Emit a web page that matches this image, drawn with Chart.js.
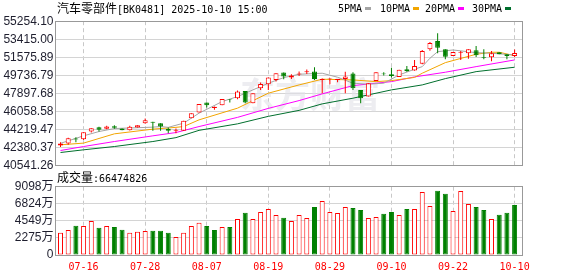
<!DOCTYPE html>
<html><head><meta charset="utf-8">
<script src="https://cdn.jsdelivr.net/npm/chart.js@4/dist/chart.umd.min.js"></script>
<style>
html,body{margin:0;padding:0;background:#fff;}
#wrap{position:relative;width:578px;height:276px;overflow:hidden;background:#fff;}
canvas{position:absolute;left:0;}
.t{position:absolute;white-space:nowrap;color:#000;line-height:12px;}
.cjk{font-family:"Noto Sans CJK SC";font-size:12px;}
.lat{font-family:"DejaVu Sans Mono";font-size:10px;}
.sw{display:inline-block;width:6px;height:3px;vertical-align:middle;margin-left:3px;position:relative;top:-1px;}
</style></head>
<body><div id="wrap">
<canvas id="main" width="578" height="175" style="top:0"></canvas>
<canvas id="vol" width="578" height="106" style="top:170px"></canvas>
<div class="t" style="left:57px;top:2px"><span class="cjk">汽车零部件</span><span class="lat">[BK0481] 2025-10-10 15:00</span></div>
<div id="legend"></div>
<div class="t" id="volLabel" style="left:57px;top:171px"></div>
</div>
<script>
// ---------- data ----------
const dates = ['07-11','07-14','07-15','07-16','07-17','07-18','07-21','07-22','07-23','07-24','07-25',
'07-28','07-29','07-30','07-31','08-01','08-04','08-05','08-06','08-07','08-08','08-11','08-12','08-13',
'08-14','08-15','08-18','08-19','08-20','08-21','08-22','08-25','08-26','08-27','08-28','08-29','09-01',
'09-02','09-03','09-04','09-05','09-08','09-09','09-10','09-11','09-12','09-15','09-16','09-17','09-18',
'09-19','09-22','09-23','09-24','09-25','09-26','09-29','09-30','10-09','10-10'];
const xTickLabels = ['07-16','07-28','08-07','08-19','08-29','09-10','09-22','10-10'];

const open  = [42605,42808,43316,43255,44027,44474,44302,44576,44332,44170,44434,44881,45013,44881,44302,44098,44098,45389,45958,46974,46435,46710,47350,47421,48162,46913,48437,48843,49280,50022,49514,49839,50062,50144,49280,49351,49280,49382,49920,48264,47583,49178,49920,49859,49585,50367,50245,50936,52399,53242,52399,51718,52054,51993,52298,51617,51586,52094,51891,51718];
const high  = [42950,43387,43458,43966,44373,44505,44606,44678,44332,44606,44678,45348,45013,44881,44434,44332,45114,45897,46842,46974,46567,47350,47350,48193,48162,47929,49006,49514,49961,50022,49859,50144,50347,50570,49412,49453,49382,50123,50062,48264,48945,50062,50062,50530,50326,50702,51312,52328,53141,54025,52399,52125,52226,52399,52734,52399,52226,52094,51891,52379];
const low   = [42442,42676,42950,43154,43926,44027,44271,44302,44170,44129,44434,44810,44098,44098,43865,43865,44098,45389,45958,46466,46232,46710,46974,47319,46913,46913,48264,48264,49107,49351,49382,49686,49890,49280,47929,48843,49046,47929,48264,46913,47583,49178,49717,49514,49585,50123,50225,50875,52257,51993,51383,51718,51312,51444,51617,51383,51180,51891,51383,51617];
const close = [42808,43357,43214,43966,44373,44200,44535,44403,44170,44505,44678,45186,44911,44535,44098,44200,45114,45897,46842,46710,46537,47350,47278,48091,46974,47929,48874,49514,49961,49615,49717,49940,50164,49382,49382,49412,49382,49615,48437,47421,48945,50062,49859,49686,50326,50164,50702,52226,53039,52562,51647,52125,52125,52399,51790,51546,51993,51891,51718,52023];

// volume in 万 (10k shares)
const volume = [2970,3330,3903,3863,4529,3636,3863,3730,3370,2970,3104,3197,3237,3237,2970,2398,2970,3863,4302,3863,3330,3730,3730,4795,5634,4795,5728,6127,5328,4968,
4529,5328,4928,6394,7193,5728,5594,6394,6260,5994,4928,5062,5501,5728,5328,6127,6127,8392,6527,8565,8165,5861,8525,6793,6394,5994,4795,5368,5634,6647.4826];
const volUp = [1,1,0,1,1,0,1,0,0,1,1,1,0,0,0,1,1,1,1,0,0,1,0,1,0,1,1,1,1,0,
1,1,1,0,1,1,1,1,0,0,1,1,0,0,1,0,1,1,1,0,0,1,1,1,0,0,1,0,0,0];

// moving averages (index, value)
const ma5Idx  = [0,1,3,5,7,12,13,14,16,18,21,23,25,27,29,31,32,34,36,38,40,42,44,46,47,48,49,51,54,56,59];
const ma5     = [42828,43082,43590,44027,44332,44474,44535,44454,44881,45897,47075,47583,48264,48945,49514,49859,49890,49961,49554,48945,48843,48945,49788,50367,50631,51485,52155,52328,52054,51993,51820];
const ma10Idx = [0,3,7,12,15,16,18,23,27,31,34,38,41,43,46,47,50,54,56,57,59];
const ma10    = [42676,42849,43794,44271,44454,44535,45216,46405,47929,48772,49351,49280,49107,49209,49534,49961,51038,51891,52094,52094,51749];
const ma20Idx = [0,3,7,12,15,18,23,27,31,34,38,43,46,50,54,59];
const ma20    = [42097,42503,43011,43590,43926,44535,45470,46384,47177,47858,48701,49107,49585,50062,50631,51312];
const ma30Idx = [0,3,7,12,15,18,23,27,31,34,38,43,47,50,54,59];
const ma30    = [41894,42168,42503,43011,43408,44149,44810,45572,46181,46842,47421,48264,48772,49412,50123,50570];

const priceTicks = [40541.26,42380.37,44219.47,46058.58,47897.68,49736.79,51575.89,53415.00,55254.10];
const volTicks = [0,2274.5,4549,6823.5,9098];
const maNames = ['5PMA','10PMA','20PMA','30PMA'];

// ---------- styles ----------
const RED = '#ff0000', GREEN = '#008000';
const MA_COLORS = ['#a5a5a5','#f2a500','#ff00ff','#006f2d'];
const N = dates.length;
const xTickIdx = xTickLabels.map(l => dates.indexOf(l));

// legend (HTML text)
const legendPos = [338,380,425,472];
document.getElementById('legend').innerHTML = maNames.map((n,k) =>
  `<div class="t lat" style="left:${legendPos[k]}px;top:3px">${n}<span class="sw" style="background:${MA_COLORS[k]}"></span></div>`).join('');
document.getElementById('volLabel').innerHTML =
  '<span class="cjk">成交量</span><span class="lat">:' + Math.round(volume[N-1]*10000) + '</span>';

Chart.defaults.animation = false;
Chart.defaults.font.family = "'Liberation Sans', 'Noto Sans CJK SC'";

function xScale(showLabels){
  return {
    type:'linear', min:-0.65, max:N, offset:false,
    afterBuildTicks: s => { s.ticks = xTickIdx.map(v => ({value:v})); },
    grid:{display:true, offset:false, color:'#c8c8c8', lineWidth:1, drawTicks:false},
    border:{display:false, dash:[4,3]},
    ticks:{display:showLabels, autoSkip:false, maxRotation:0, minRotation:0, color:RED,
      font:{family:'DejaVu Sans Mono', size:10}, padding:6,
      callback: v => dates[v] !== undefined ? dates[v] : ''},
    afterFit: s => { s.height = showLabels ? 21 : 0; }
  };
}

const frame = {
  id:'frame',
  beforeDatasetsDraw(chart, args, opts){
    const {ctx, chartArea:a} = chart;
    ctx.save();
    if (opts.watermark) {
      ctx.fillStyle = 'rgba(225,225,232,0.6)';
      ctx.font = "bold 35px 'Noto Sans CJK SC'";
      ctx.textBaseline = 'middle';
      ctx.textAlign = 'left';
      ctx.fillText(opts.watermark, a.left + (a.right - a.left) * 0.395, a.top + (a.bottom - a.top) * 0.51);
    }
    ctx.strokeStyle = '#999';
    ctx.lineWidth = 1;
    ctx.strokeRect(Math.floor(a.left)+0.5, Math.floor(a.top)+0.5,
      Math.floor(a.right)-Math.floor(a.left), Math.floor(a.bottom)-Math.floor(a.top));
    ctx.restore();
  }
};

const up = i => close[i] >= open[i];
const maSets = [ [ma5Idx,ma5],[ma10Idx,ma10],[ma20Idx,ma20],[ma30Idx,ma30] ].map(([ix,vals],k) => ({
  type:'line', label:maNames[k], order:3,
  data: ix.map((x,j) => ({x:x, y:vals[j]})),
  borderColor: MA_COLORS[k], borderWidth:1, pointRadius:0, fill:false, tension:0
}));

new Chart(document.getElementById('main'), {
  type:'bar',
  data:{ datasets:[
    ...maSets,
    { label:'wick', order:2, grouped:false,
      data: dates.map((d,i) => ({x:i, y:[low[i], high[i]]})),
      backgroundColor: c => up(c.dataIndex) ? RED : GREEN,
      borderWidth:0, barThickness:1, inflateAmount:0 },
    { label:'body', order:1, grouped:false,
      data: dates.map((d,i) => ({x:i, y:[open[i], close[i]]})),
      backgroundColor: c => up(c.dataIndex) ? '#ffffff' : GREEN,
      borderColor: c => up(c.dataIndex) ? RED : GREEN,
      borderWidth:1, borderSkipped:false, barThickness:5, inflateAmount:0 }
  ]},
  options:{
    responsive:false, animation:false,
    layout:{padding:{left:0, top:21.2, right:55.7, bottom:9}},
    plugins:{legend:{display:false}, tooltip:{enabled:false}, frame:{watermark:'东方财富'}},
    scales:{
      x: xScale(false),
      y: { type:'linear', min:priceTicks[0], max:priceTicks[priceTicks.length-1], beginAtZero:false,
        afterBuildTicks: s => { s.ticks = priceTicks.map(v => ({value:v})); },
        grid:{color:'#d4d4d4', drawTicks:false}, border:{display:false},
        ticks:{color:'#1e1e2e', font:{size:12}, padding:2, autoSkip:false, callback: v => Number(v).toFixed(2)},
        afterFit: s => { s.width = 55.5; } }
    }
  },
  plugins:[frame]
});

new Chart(document.getElementById('vol'), {
  type:'bar',
  data:{ datasets:[
    { label:'volume', grouped:false,
      data: dates.map((d,i) => ({x:i, y:volume[i]})),
      backgroundColor: c => volUp[c.dataIndex] ? '#ffffff' : GREEN,
      borderColor: c => volUp[c.dataIndex] ? RED : GREEN,
      borderWidth:1, borderSkipped:false, barThickness:5, inflateAmount:0 }
  ]},
  options:{
    responsive:false, animation:false,
    layout:{padding:{left:0, top:16.7, right:55.7, bottom:0}},
    plugins:{legend:{display:false}, tooltip:{enabled:false}, frame:{}},
    scales:{
      x: xScale(true),
      y: { type:'linear', min:volTicks[0], max:volTicks[volTicks.length-1],
        afterBuildTicks: s => { s.ticks = volTicks.map(v => ({value:v})); },
        grid:{color:'#d4d4d4', drawTicks:false}, border:{display:false},
        ticks:{color:'#1e1e2e', font:{size:12}, padding:2, autoSkip:false, callback: v => v === 0 ? '0' : Math.round(v) + '万'},
        afterFit: s => { s.width = 55.5; } }
    }
  },
  plugins:[frame]
});
</script>
</body></html>
